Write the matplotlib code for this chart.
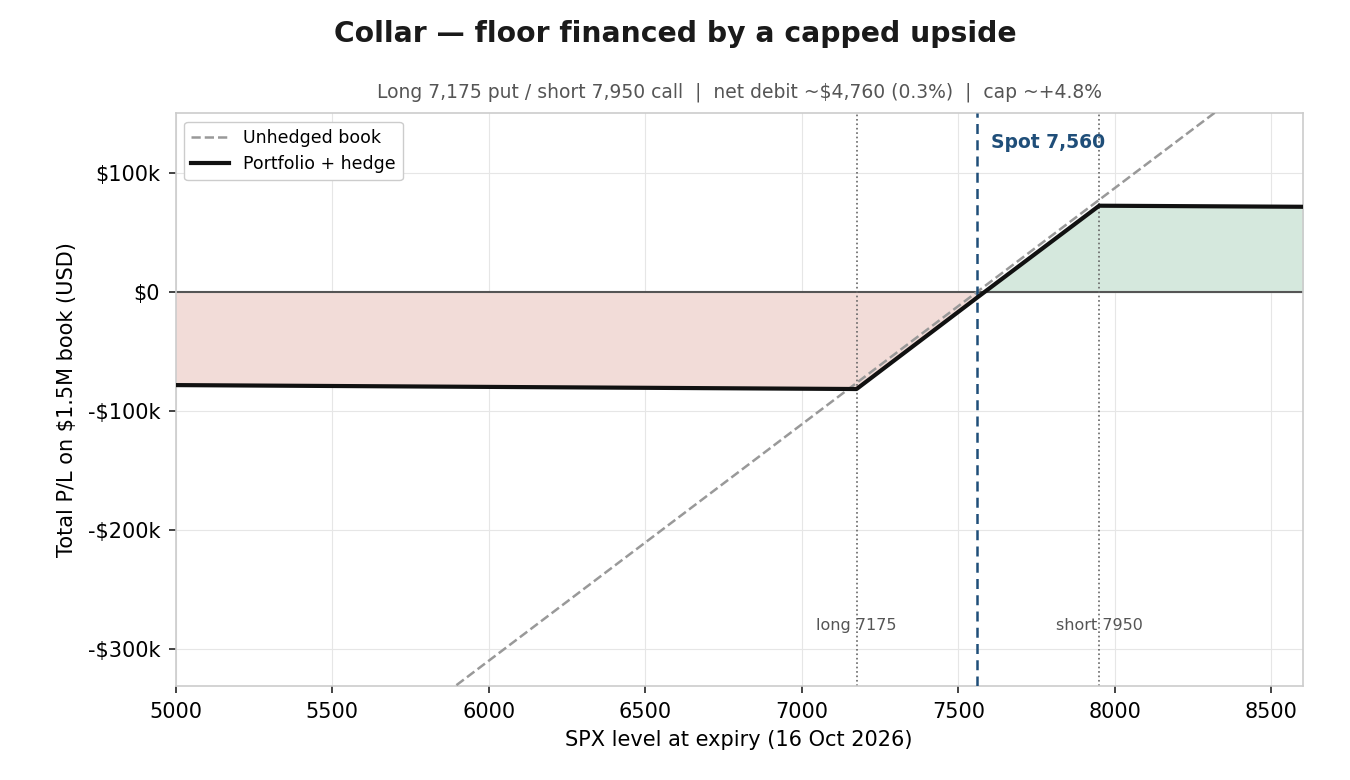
import numpy as np
import matplotlib.pyplot as plt
from matplotlib.ticker import FuncFormatter

# SPX level vs P/L (USD)
spx_unhedged = [5000, 7560, 8600]
pl_unhedged = [-508000, 0, 206000]

spx_hedged = [5000, 7175, 7560, 7950, 8600]
pl_hedged = [-78200, -81500, -4800, 72300, 71400]

spot = 7560
put_strike = 7175
call_strike = 7950

plt.rcParams['font.family'] = ['DejaVu Sans']

fig, ax = plt.subplots(figsize=(13.5, 7.8), dpi=100)
fig.subplots_adjust(left=0.13, right=0.965, top=0.855, bottom=0.12)

xs = np.linspace(5000, 8600, 2000)
ys = np.interp(xs, spx_hedged, pl_hedged)
ax.fill_between(xs, ys, 0, where=ys < 0, interpolate=True, color='#f2dcd8', zorder=1)
ax.fill_between(xs, ys, 0, where=ys > 0, interpolate=True, color='#d5e8dd', zorder=1)

ax.axhline(0, color='#555555', lw=1.5, zorder=2)
ax.axvline(put_strike, color='#666666', lw=1.2, ls=':', zorder=2)
ax.axvline(call_strike, color='#666666', lw=1.2, ls=':', zorder=2)
ax.axvline(spot, color='#1f4e79', lw=1.8, ls=(0, (4, 2.5)), zorder=4)

ax.plot(spx_unhedged, pl_unhedged, color='#999999', lw=1.8, ls='--', label='Unhedged book', zorder=3)
ax.plot(spx_hedged, pl_hedged, color='#111111', lw=3, label='Portfolio + hedge', zorder=5)

ax.text(spot + 45, 125000, 'Spot 7,560', color='#1f4e79', fontsize=13.5, fontweight='bold', va='center')
ax.text(put_strike, -280000, 'long 7175', color='#555555', fontsize=11.5, ha='center', va='center')
ax.text(call_strike, -280000, 'short 7950', color='#555555', fontsize=11.5, ha='center', va='center')

ax.set_xlim(5000, 8600)
ax.set_ylim(-331000, 150000)
ax.set_xticks([5000, 5500, 6000, 6500, 7000, 7500, 8000, 8500])
ax.set_yticks([-300000, -200000, -100000, 0, 100000])

def fmt_k(v, pos):
    if v == 0:
        return '$0'
    sign = '-' if v < 0 else ''
    return f'{sign}${abs(v) / 1000:.0f}k'

ax.yaxis.set_major_formatter(FuncFormatter(fmt_k))
ax.tick_params(labelsize=15, length=5, width=1.2, color='#222222', pad=6)
ax.grid(True, color='#e6e6e6', lw=0.8, zorder=0)
ax.set_axisbelow(True)
for s in ax.spines.values():
    s.set_color('#cccccc')
    s.set_linewidth(1.2)

ax.set_xlabel('SPX level at expiry (16 Oct 2026)', fontsize=15, labelpad=6)
ax.set_ylabel('Total P/L on $1.5M book (USD)', fontsize=15, labelpad=8)
ax.set_title('Long 7,175 put / short 7,950 call  |  net debit ~$4,760 (0.3%)  |  cap ~+4.8%',
             fontsize=13.5, color='#555555', pad=11)
fig.suptitle('Collar \u2014 floor financed by a capped upside', fontsize=20.3, fontweight='bold',
             color='#1a1a1a', y=0.975)

ax.legend(loc='upper left', fontsize=12.5, framealpha=1, edgecolor='#cccccc', handlelength=2.2)

fig.savefig('out.png', dpi=100)
